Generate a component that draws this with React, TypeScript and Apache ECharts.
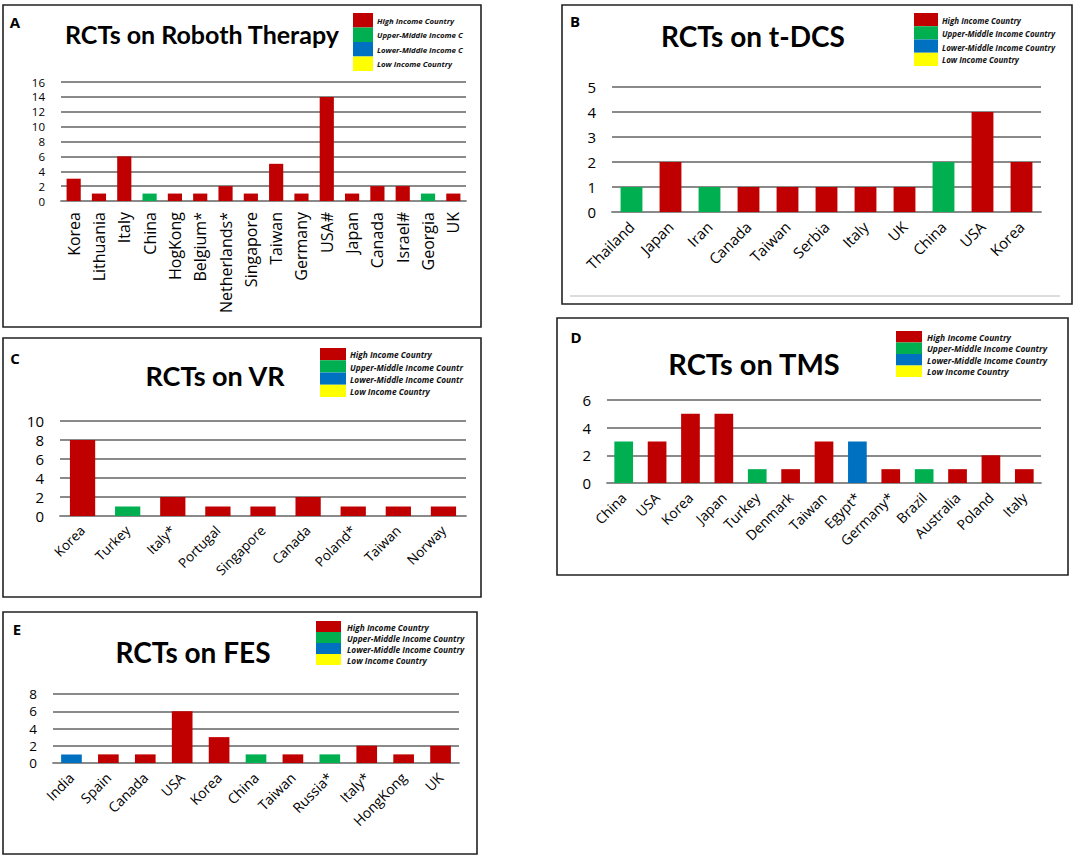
import React, { useEffect, useRef } from "react";
import * as echarts from "echarts";

// ---------- data ----------
const robotCountries = ["Korea", "Lithuania", "Italy", "China", "HogKong", "Belgium*", "Netherlands*", "Singapore", "Taiwan", "Germany", "USA#", "Japan", "Canada", "Israel#", "Georgia", "UK"];
const robotValues = [3, 1, 6, 1, 1, 1, 2, 1, 5, 1, 14, 1, 2, 2, 1, 1];
const robotIncome = ["H", "H", "H", "U", "H", "H", "H", "H", "H", "H", "H", "H", "H", "H", "U", "H"];

const tdcsCountries = ["Thailand", "Japan", "Iran", "Canada", "Taiwan", "Serbia", "Italy", "UK", "China", "USA", "Korea"];
const tdcsValues = [1, 2, 1, 1, 1, 1, 1, 1, 2, 4, 2];
const tdcsIncome = ["U", "H", "U", "H", "H", "H", "H", "H", "U", "H", "H"];

const vrCountries = ["Korea", "Turkey", "Italy*", "Portugal", "Singapore", "Canada", "Poland*", "Taiwan", "Norway"];
const vrValues = [8, 1, 2, 1, 1, 2, 1, 1, 1];
const vrIncome = ["H", "U", "H", "H", "H", "H", "H", "H", "H"];

const tmsCountries = ["China", "USA", "Korea", "Japan", "Turkey", "Denmark", "Taiwan", "Egypt*", "Germany*", "Brazil", "Australia", "Poland", "Italy"];
const tmsValues = [3, 3, 5, 5, 1, 1, 3, 3, 1, 1, 1, 2, 1];
const tmsIncome = ["U", "H", "H", "H", "U", "H", "H", "L", "H", "U", "H", "H", "H"];

const fesCountries = ["India", "Spain", "Canada", "USA", "Korea", "China", "Taiwan", "Russia*", "Italy*", "HongKong", "UK"];
const fesValues = [1, 1, 1, 6, 3, 1, 1, 1, 2, 1, 2];
const fesIncome = ["L", "H", "H", "H", "H", "U", "H", "U", "H", "H", "H"];

const legendLabels = ["High Income Country", "Upper-Middle Income Country", "Lower-Middle Income Country", "Low Income Country"];
const titles = ["RCTs on Roboth Therapy", "RCTs on t-DCS", "RCTs on VR", "RCTs on TMS", "RCTs on FES"];
const letters = ["A", "B", "C", "D", "E"];
const yMax = [16, 5, 10, 6, 8];
const yStep = [2, 1, 2, 2, 2];

// ---------- styles ----------
const INCOME_COLORS: Record<string, string> = { H: "#C00000", U: "#00B050", L: "#0070C0", Low: "#FFFF00" };
const legendColors = ["#C00000", "#00B050", "#0070C0", "#FFFF00"];
const GRID_COLOR = "#8a8a8a";
const AXIS_FONT = "Open Sans";
const TITLE_FONT = "Lato";

const panels = [
  {
    cats: robotCountries, vals: robotValues, inc: robotIncome,
    border: [3, 5, 478, 322],
    grid: { left: 61, top: 82, width: 405, height: 119 },
    rotate: 90, xFont: 16, xMargin: 11, yFont: 11.5,
    title: { x: 202, y: 34, size: 25 }, letter: [15, 22],
    legend: { x: 353, y: 13, w: 20, h: 14.5, tx: 377, ty: [21, 35, 50, 64], font: 7.8, tw: 91 },
  },
  {
    cats: tdcsCountries, vals: tdcsValues, inc: tdcsIncome,
    border: [562, 5, 510, 299],
    grid: { left: 612, top: 87, width: 429, height: 125 },
    rotate: 45, xFont: 15, xMargin: 12, yFont: 15,
    title: { x: 753, y: 36, size: 28 }, letter: [575, 21],
    legend: { x: 914, y: 13, w: 24, h: 13.25, tx: 942, ty: [20, 33, 47, 59], font: 8, tw: 125 },
  },
  {
    cats: vrCountries, vals: vrValues, inc: vrIncome,
    border: [3, 338, 478, 259],
    grid: { left: 60, top: 421, width: 406, height: 95 },
    rotate: 45, xFont: 13.5, xMargin: 12, yFont: 15,
    title: { x: 215, y: 375, size: 27 }, letter: [15, 358],
    legend: { x: 320, y: 348, w: 26, h: 12.25, tx: 350, ty: [354, 367, 379, 391], font: 8.3, tw: 118 },
  },
  {
    cats: tmsCountries, vals: tmsValues, inc: tmsIncome,
    border: [557, 318, 511, 257],
    grid: { left: 607, top: 400, width: 434, height: 83 },
    rotate: 45, xFont: 14, xMargin: 12, yFont: 15,
    title: { x: 754, y: 363, size: 29 }, letter: [576, 337],
    legend: { x: 896, y: 331, w: 26, h: 11.5, tx: 927, ty: [337, 348, 360, 371], font: 8.5, tw: 135 },
  },
  {
    cats: fesCountries, vals: fesValues, inc: fesIncome,
    border: [3, 612, 474, 242],
    grid: { left: 53, top: 694, width: 406, height: 69 },
    rotate: 45, xFont: 14, xMargin: 12, yFont: 13.5,
    title: { x: 193, y: 652, size: 28 }, letter: [17, 629],
    legend: { x: 316, y: 621, w: 25, h: 11, tx: 347, ty: [627, 638, 649, 660], font: 8.3, tw: 125 },
  },
];

function buildOption() {
  const grid: any[] = [];
  const xAxis: any[] = [];
  const yAxis: any[] = [];
  const series: any[] = [];
  const graphic: any[] = [];

  panels.forEach((p, i) => {
    grid.push({ ...p.grid, containLabel: false, outerBoundsMode: "none" });
    xAxis.push({
      type: "category",
      gridIndex: i,
      data: p.cats,
      axisTick: { show: false },
      axisLine: { lineStyle: { color: GRID_COLOR, width: 1.8 } },
      axisLabel: {
        interval: 0,
        rotate: p.rotate,
        fontSize: p.xFont,
        fontFamily: AXIS_FONT,
        color: "#000",
        margin: p.xMargin,
      },
    });
    yAxis.push({
      type: "value",
      gridIndex: i,
      min: 0,
      max: yMax[i],
      interval: yStep[i],
      axisLine: { show: false },
      axisTick: { show: false },
      axisLabel: { fontSize: p.yFont, fontFamily: AXIS_FONT, color: "#000", margin: 16 },
      splitLine: { lineStyle: { color: GRID_COLOR, width: 1.8 } },
    });
    series.push({
      type: "bar",
      xAxisIndex: i,
      yAxisIndex: i,
      barCategoryGap: "44%",
      data: p.vals.map((v, k) => ({ value: v, itemStyle: { color: INCOME_COLORS[p.inc[k]] } })),
    });

    const [bx, by, bw, bh] = p.border;
    graphic.push({
      type: "rect",
      shape: { x: bx, y: by, width: bw, height: bh },
      style: { fill: "none", stroke: "#222", lineWidth: 1.6 },
      silent: true,
    });
    graphic.push({
      type: "text",
      x: p.letter[0],
      y: p.letter[1],
      style: { text: letters[i], fontSize: 15, fontWeight: "bold", fontFamily: AXIS_FONT, fill: "#000", align: "center", verticalAlign: "middle" },
    });
    graphic.push({
      type: "text",
      x: p.title.x,
      y: p.title.y,
      style: { text: titles[i], fontSize: p.title.size, fontWeight: "bold", fontFamily: TITLE_FONT, fill: "#000", align: "center", verticalAlign: "middle" },
    });
    legendLabels.forEach((lab, k) => {
      graphic.push({
        type: "rect",
        shape: { x: p.legend.x, y: p.legend.y + k * p.legend.h, width: p.legend.w, height: p.legend.h },
        style: { fill: legendColors[k] },
        silent: true,
      });
      graphic.push({
        type: "text",
        x: p.legend.tx,
        y: p.legend.ty[k],
        style: {
          text: lab,
          fontSize: p.legend.font,
          fontWeight: "bold",
          fontStyle: "italic",
          fontFamily: AXIS_FONT,
          fill: "#111",
          align: "left",
          verticalAlign: "middle",
          width: p.legend.tw,
          overflow: "truncate",
          ellipsis: "",
        },
      });
    });
  });

  // thin separator line at the bottom of panel B
  graphic.push({
    type: "line",
    shape: { x1: 570, y1: 296, x2: 1060, y2: 296 },
    style: { stroke: "#bbb", lineWidth: 1 },
    silent: true,
  });

  return {
    animation: false,
    backgroundColor: "#fff",
    grid,
    xAxis,
    yAxis,
    series,
    graphic,
  };
}

export default function App() {
  const ref = useRef<HTMLDivElement>(null);
  useEffect(() => {
    document.body.style.margin = "0";
    if (!ref.current) return;
    const chart = echarts.init(ref.current, undefined, { renderer: "svg" });
    chart.setOption(buildOption() as any);
    return () => chart.dispose();
  }, []);
  return <div ref={ref} style={{ position: "fixed", left: 0, top: 0, width: 1074, height: 859, background: "#fff" }} />;
}
